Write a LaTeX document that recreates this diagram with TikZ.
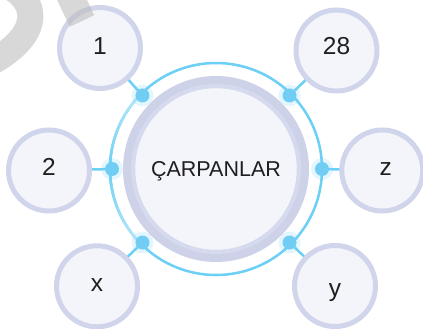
\documentclass[tikz,border=0pt]{standalone}
\usepackage{fontspec}
\setmainfont{Liberation Sans}
\definecolor{ringblue}{HTML}{6CCFF5}
\definecolor{dotblue}{HTML}{72CDF4}
\definecolor{lav}{HTML}{D1D5EB}
\definecolor{gring}{HTML}{CDD2E8}
\definecolor{gringin}{HTML}{D6DAEE}
\definecolor{bgc}{HTML}{F4F5FA}
\definecolor{txt}{HTML}{1E1E1E}
\definecolor{wmgray}{HTML}{B8B8B8}
\begin{document}
\begin{tikzpicture}[x=1pt,y=-1pt,
  smallc/.style={circle, minimum size=81pt, inner sep=0pt, draw=lav, line width=5pt, fill=bgc, text=txt, font=\fontsize{24.5}{28}\selectfont, text depth=0pt},
  centerc/.style={circle, minimum size=174pt, inner sep=0pt, draw=gring, line width=12pt, fill=bgc, text=txt, font=\fontsize{21.5}{25}\selectfont, text height=15.4pt, text depth=0pt},
  conn/.style={draw=ringblue, line width=2.5pt},
  dotc/.style={circle, fill=dotblue, minimum size=14pt, inner sep=0pt},
  glowc/.style={circle, fill=ringblue, opacity=0.18, minimum size=22pt, inner sep=0pt},
  wm/.style={draw=wmgray, opacity=0.55, line cap=butt}
]
\fill[white] (0,0) rectangle (423,329);
\useasboundingbox (0,0) rectangle (423,329);
\coordinate (c) at (216,169);
% blue ring
\draw[conn, line width=2.5pt] (c) circle (106);
\foreach \a in {135,138,...,222}{
  \pgfmathsetmacro\m{100-55*abs(\a+1.5-180)/45}
  \draw[line width=2.6pt, color=ringblue!\m!white] ([shift={(\a:106)}]c) arc[start angle=\a, end angle=\a+3.3, radius=106];
}
% dot positions
\coordinate (d1) at ([shift={(225:104)}]c);
\coordinate (d2) at ([shift={(315:104)}]c);
\coordinate (d3) at ([shift={(180:104)}]c);
\coordinate (d4) at ([shift={(0:106)}]c);
\coordinate (d5) at ([shift={(135:104)}]c);
\coordinate (d6) at ([shift={(45:104)}]c);
% outer node positions
\coordinate (p1) at (100,48);
\coordinate (p2) at (336.5,50.5);
\coordinate (p3) at (49,170.5);
\coordinate (p4) at (382.3,170.5);
\coordinate (p5) at (97,286.3);
\coordinate (p6) at (335,286);
% connectors
\foreach \i in {1,...,6}{ \draw[conn] (d\i) -- (p\i); }
% central circle
\draw[gringin, line width=5pt] (c) circle (83.5);
\node[centerc] (center) at (c) {ÇARPANLAR};
\draw[gringin, line width=4pt] (c) circle (83);
% small circles
\node[smallc, text height=14pt] (n1) at (p1) {1};
\node[smallc, text height=9pt] (n2) at (p2) {28};
\node[smallc, text height=9pt] (n3) at (p3) {2};
\node[smallc, text height=9pt] (n4) at (p4) {\hspace*{7pt}z};
\node[smallc, text height=11pt] (n5) at (p5) {x};
\node[smallc, text height=21pt] (n6) at (p6) {y};
% dots
\foreach \i in {1,...,6}{
  \node[glowc] (g\i) at (d\i) {};
  \node[dotc] (dot\i) at (d\i) {};
}
% watermark fragments
\draw[wm, line width=26pt] (12,-12) .. controls (40,6) and (38,36) .. (-8,62);
\draw[wm, line width=27pt] (82,21) -- (65,-15);
\end{tikzpicture}
\end{document}
